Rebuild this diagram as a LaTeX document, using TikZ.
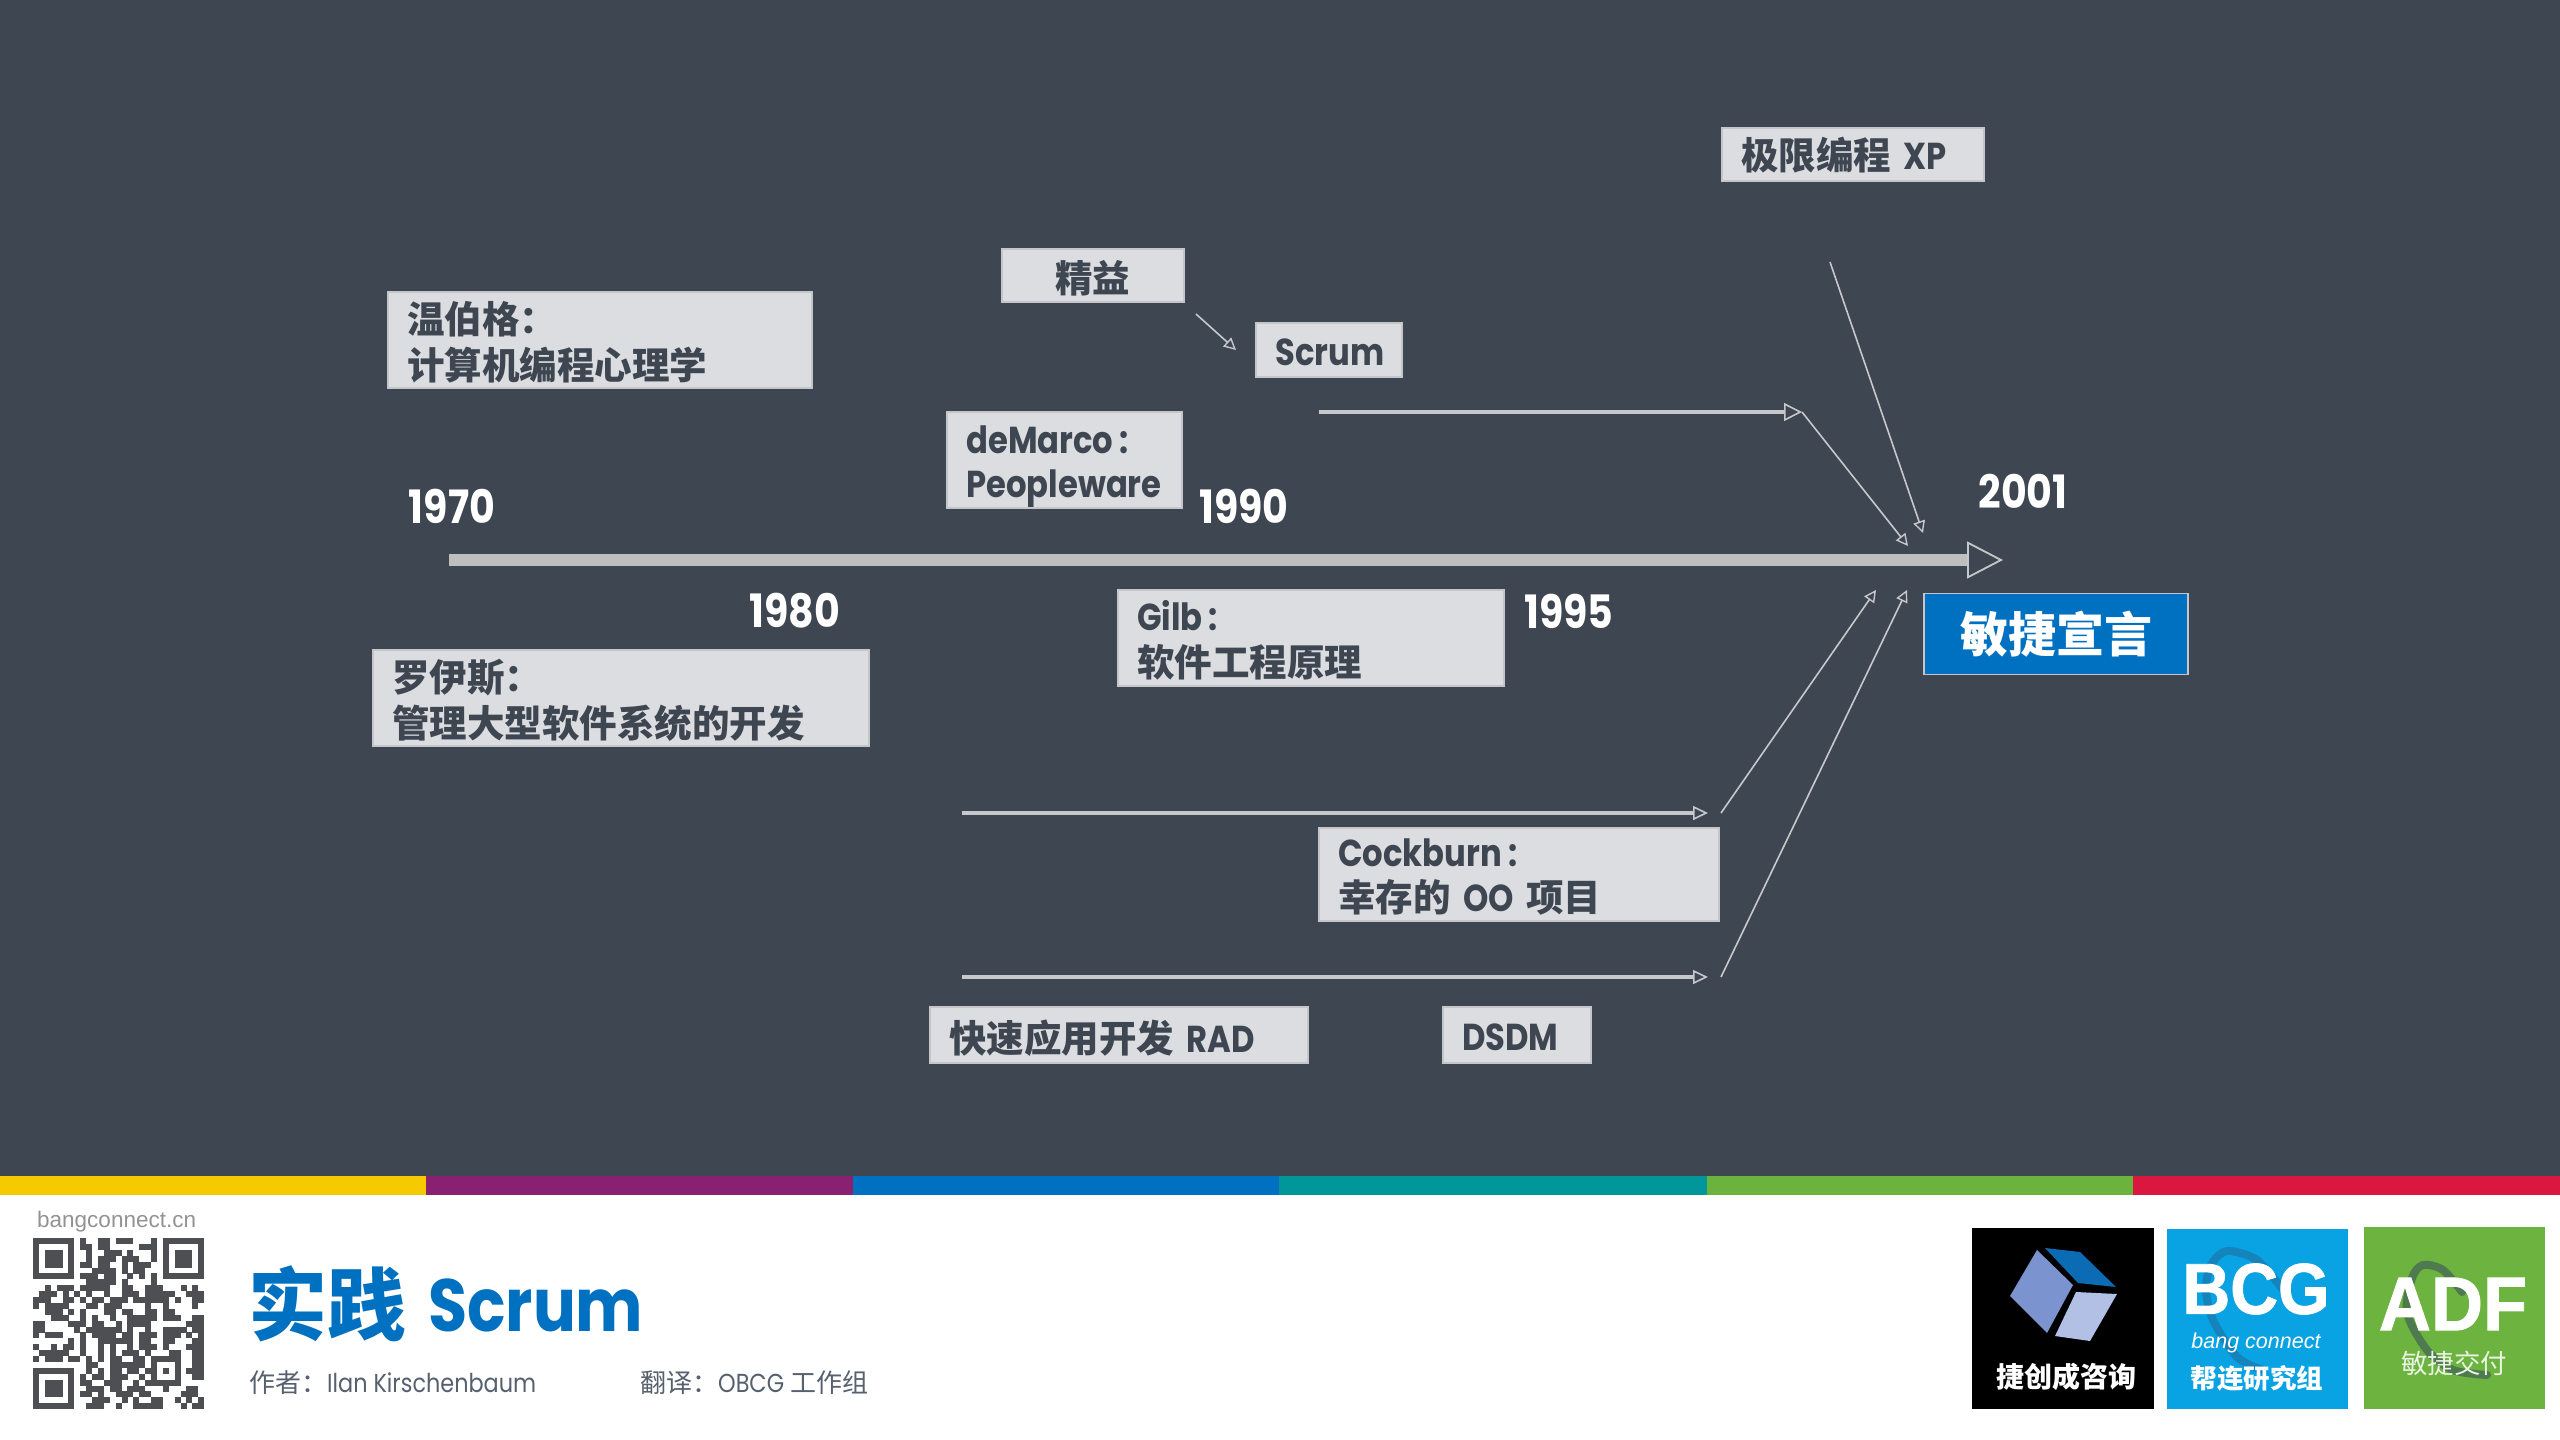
\documentclass[tikz,border=0pt]{standalone}
\usepackage{fontspec}
\usetikzlibrary{arrows.meta}
\setmainfont{Poppins}[FakeStretch=0.86]
\newfontfamily\cjk{Noto Sans CJK SC}
\newfontfamily\arial{Liberation Sans}
\newfontfamily\heavy{Liberation Sans Bold}[FakeBold=1.2]
\definecolor{bgc}{HTML}{3E4651}
\definecolor{boxc}{HTML}{DCDDE0}
\definecolor{boxl}{HTML}{C4C6CA}
\definecolor{linec}{HTML}{C6C8CB}
\definecolor{mainc}{HTML}{BFBFBF}
\definecolor{bluec}{HTML}{0070C0}
\definecolor{qrc}{HTML}{4D4F53}
\definecolor{subc}{HTML}{56606E}
\definecolor{bcgc}{HTML}{09A3E3}
\definecolor{adfc}{HTML}{6DB33F}
\definecolor{bara}{HTML}{F5CB00}
\definecolor{barb}{HTML}{8A2070}
\definecolor{barc}{HTML}{0070C0}
\definecolor{bard}{HTML}{00969A}
\definecolor{bare}{HTML}{6BB33C}
\definecolor{barf}{HTML}{D9173F}
\definecolor{cubea}{HTML}{7B93CF}
\definecolor{cubeb}{HTML}{0B6CB5}
\definecolor{cubec}{HTML}{B3C0E6}
\definecolor{swa}{HTML}{1583BC}
\definecolor{swb}{HTML}{4F7A50}
\newcommand{\fs}[1]{\fontsize{#1}{46}\selectfont}
\newcommand{\dn}[1]{\raisebox{-3pt}[\height][\depth]{#1}}
\newcommand{\dnn}[1]{\raisebox{-7pt}[\height][\depth]{#1}}
\newcount\qrcol
\def\qrrow#1{\ifx#1\relax\else
  \if#11\fill[qrc] ({33+5.9*\qrcol},{1238+5.9*(\qrr-1)}) rectangle +(6.0,6.0);\fi
  \advance\qrcol by 1
  \expandafter\qrrow\fi}
\tikzset{
  x=1pt,y=-1pt,
  tbox/.style={draw=boxl,line width=1.5pt,fill=boxc,text=bgc,anchor=north west,align=left,inner xsep=19pt,inner ysep=0pt,font=\bfseries\fs{37.5}},
  year/.style={text=white,font=\bfseries\fs{46}},
  arrthin/.style={draw=linec,line width=1.6pt,-{Triangle[open,length=12pt,width=12pt,line width=1.4pt]}},
  arrthick/.style={draw=linec,line width=3.4pt,-{Triangle[open,length=15pt,width=14pt,line width=1.6pt]}},
  arrbig/.style={draw=linec,line width=3.4pt,-{Triangle[open,length=18pt,width=18pt,line width=1.6pt]}},
  plain/.style={inner sep=0pt},
}
\begin{document}
\begin{tikzpicture}
\useasboundingbox (0,0) rectangle (2560,1440);
\fill[white] (0,0) rectangle (2560,1440);
\fill[bgc] (0,0) rectangle (2560,1176);
% colour bar
\fill[bara] (0,1176) rectangle (426,1195);
\fill[barb] (426,1176) rectangle (853,1195);
\fill[barc] (853,1176) rectangle (1279,1195);
\fill[bard] (1279,1176) rectangle (1707,1195);
\fill[bare] (1707,1176) rectangle (2133,1195);
\fill[barf] (2133,1176) rectangle (2560,1195);
% coordinates
\coordinate (mainA) at (449,560);
\coordinate (mainB) at (2003,560);
\coordinate (xpA) at (1830,262);
\coordinate (xpB) at (1923,533);
\coordinate (srA) at (1319,412);
\coordinate (srB) at (1802,412);
\coordinate (srC) at (1908,546);
\coordinate (leanA) at (1196,314);
\coordinate (leanB) at (1236,350);
\coordinate (upA) at (962,813);
\coordinate (upB) at (1708,813);
\coordinate (upC) at (1721,813);
\coordinate (upD) at (1876,590);
\coordinate (loA) at (962,977);
\coordinate (loB) at (1708,977);
\coordinate (loC) at (1721,977);
\coordinate (loD) at (1907,590);
% connectors
\draw[mainc,line width=12pt,-{Triangle[length=36pt,width=37pt,line width=1.8pt,fill=bgc,color=linec]}] (mainA) -- (mainB);
\draw[arrthin] (xpA) -- (xpB);
\draw[arrbig] (srA) -- (srB);
\draw[arrthin] (srB) -- (srC);
\draw[arrthin] (leanA) -- (leanB);
\draw[arrthick] (upA) -- (upB);
\draw[arrthin] (upC) -- (upD);
\draw[arrthick] (loA) -- (loB);
\draw[arrthin] (loC) -- (loD);
% boxes
\node[tbox,minimum width=262pt,minimum height=53pt,text width=223pt] (xp) at (1721,127) {\raisebox{-1pt}[\height][\depth]{{\cjk 极限编程} XP}};
\node[tbox,minimum width=182pt,minimum height=53pt,inner xsep=0pt,align=center] (lean) at (1001,248) {\dn{\cjk 精益}};
\node[tbox,minimum width=146pt,minimum height=54pt,text width=107pt] (scrum) at (1255,322) {\dn{Scrum}};
\node[tbox,minimum width=424pt,minimum height=96pt,text width=385pt] (wein) at (387,291) {\dn{\cjk 温伯格：}\\\dn{\cjk 计算机编程心理学}};
\node[tbox,minimum width=235pt,minimum height=96pt,text width=196pt] (dem) at (946,411) {\dnn{deMarco\,:}\\[-2pt]\dnn{Peopleware}};
\node[tbox,minimum width=386pt,minimum height=96pt,text width=347pt] (gilb) at (1117,589) {\dn{Gilb\,:}\\\dn{\cjk 软件工程原理}};
\node[tbox,minimum width=496pt,minimum height=96pt,text width=457pt] (royce) at (372,649) {\dn{\cjk 罗伊斯：}\\\dn{\cjk 管理大型软件系统的开发}};
\node[tbox,minimum width=400pt,minimum height=93pt,text width=361pt] (cock) at (1318,827) {\dn{Cockburn\,:}\\[-1pt]\dn{{\cjk 幸存的} OO {\cjk 项目}}};
\node[tbox,minimum width=378pt,minimum height=56pt,text width=339pt] (rad) at (929,1006) {\dn{{\cjk 快速应用开发} RAD}};
\node[tbox,minimum width=148pt,minimum height=56pt,text width=109pt] (dsdm) at (1442,1006) {\dn{DSDM}};
\node[draw=boxl,line width=1.5pt,fill=bluec,minimum width=264pt,minimum height=81pt,text=white,font=\cjk\bfseries\fs{48}] (man) at (2056,634) {敏捷宣言};
% years
\node[year] (y70) at (452,506) {1970};
\node[year] (y80) at (795,611) {1980};
\node[year] (y90) at (1244,506) {1990};
\node[year] (y95) at (1569,611) {1995};
\node[year] (y01) at (2023,491) {2001};
% footer text
\node[plain,anchor=west,text=gray!85,font=\arial\fs{22.5}] (site) at (37,1222) {bangconnect.cn};
\node[plain,anchor=west,text=bluec,font=\bfseries\fs{79}] (title) at (248,1304) {{\cjk 实践}\hspace{22pt}\raisebox{3pt}{\fs{74}Scrum}};
\node[plain,anchor=west,text=subc,font=\fs{26}] (auth) at (249,1383) {{\cjk 作者：}Ilan Kirschenbaum};
\node[plain,anchor=west,text=subc,font=\fs{26}] (trans) at (640,1383) {{\cjk 翻译：}OBCG {\cjk 工作组}};
% QR
\foreach \rr [count=\qrr] in {
11111110100110111000101111111,
10000010110110000011101000001,
10111010010011101000101011101,
10111010010111011100101011101,
10111010110110010111001011101,
10000010001111010110001000001,
11111110111011001010101111111,
00000000011111010000100000000,
00101110111110011001110001010,
01110101010010011101111100111,
11100110101101110111111010011,
10111100011011100001001000010,
00111010100011011001101100000,
00011100101001001111101110011,
11000011101100101111000000111,
11000001011111101001001111011,
10111000101111011011101110101,
00000010100111111011001100011,
10010110100101001011101000111,
01111100100101011101000110011,
10111011010101100110111110011,
00000000011001111110100010011,
11111110010101101101101010111,
10000010101101110010100010011,
10111010110011100101111110000,
10111010011101101110001000110,
10111010110100111011000001110,
10000010001110010100110010101,
11111110011100100111110001011}{
  \qrcol=0 \expandafter\qrrow\rr\relax
}
% logos
\fill[black] (1972,1228) rectangle (2154,1409);
\fill[cubea] (2037,1250) -- (2073,1285) -- (2047,1333) -- (2010,1296) -- cycle;
\fill[cubeb] (2045,1248) -- (2080,1252) -- (2116,1287) -- (2078,1283) -- cycle;
\fill[cubec] (2076,1292) -- (2117,1294) -- (2090,1341) -- (2055,1336) -- cycle;
\node[plain,text=white,font=\cjk\bfseries\fs{28}] (l1) at (2066,1377) {捷创成咨询};
\fill[bcgc] (2167,1229) rectangle (2348,1409);
\draw[swa,line width=8pt,line cap=round] plot[smooth] coordinates {(2283,1290) (2257,1260) (2227,1251) (2211,1265) (2206,1290) (2213,1320) (2237,1357) (2263,1370)};
\node[plain,text=white,font=\heavy\fs{72},xscale=.92] (l2) at (2256,1289) {BCG};
\node[plain,text=white,font=\arial\itshape\fs{21.5}] (l2b) at (2256,1343) {bang connect};
\node[plain,text=white,font=\cjk\bfseries\fs{26.5}] (l2c) at (2257,1378) {帮连研究组};
\fill[adfc] (2364,1227) rectangle (2545,1409);
\draw[swb,line width=8pt,line cap=round] plot[smooth] coordinates {(2462,1292) (2443,1270) (2423,1265) (2412,1278) (2407,1313) (2427,1350) (2453,1370) (2487,1375)};
\node[plain,text=white,font=\heavy\fs{76},xscale=.95] (l3) at (2453,1304) {ADF};
\node[plain,text=white!85!adfc,font=\cjk\fs{26.5}] (l3b) at (2454,1363) {敏捷交付};
\end{tikzpicture}
\end{document}
